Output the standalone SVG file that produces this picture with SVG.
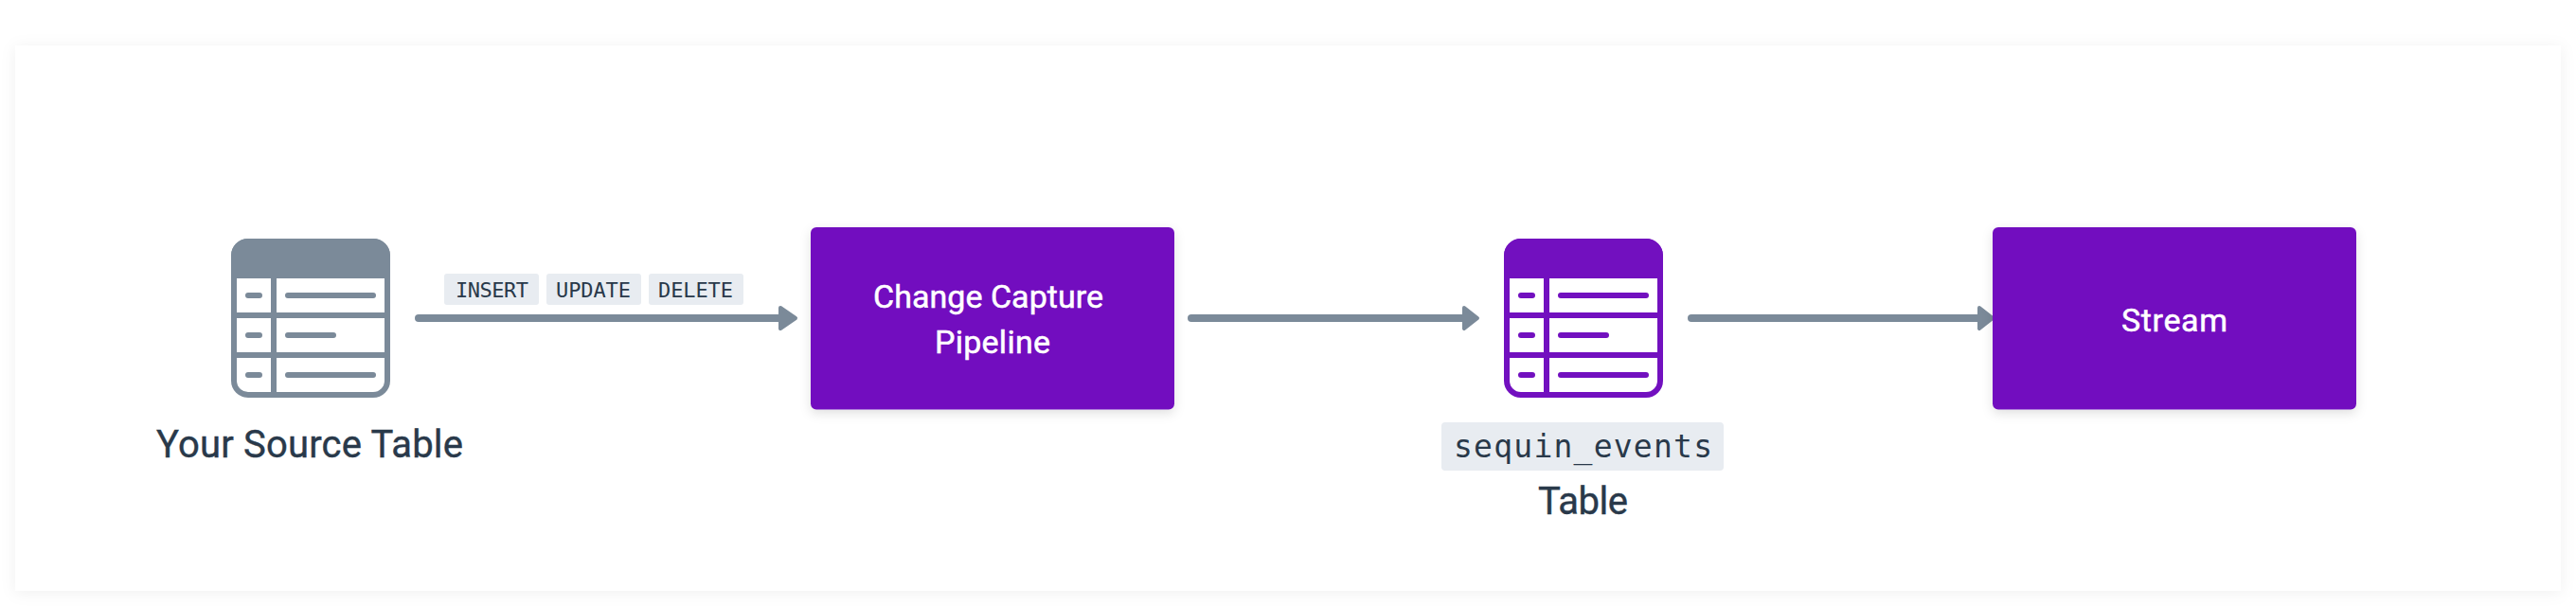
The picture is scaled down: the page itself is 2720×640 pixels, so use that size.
<svg xmlns="http://www.w3.org/2000/svg" width="2720" height="640" viewBox="0 0 2720 640">
<style>
.lbl{font-family:Roboto,"Noto Sans","Liberation Sans",sans-serif;font-weight:400;font-size:40px;fill:#29394a;stroke:#29394a;stroke-width:0.4px}
.box-t{font-family:Roboto,"Noto Sans","Liberation Sans",sans-serif;font-weight:400;font-size:34px;fill:#fff;stroke:#fff;stroke-width:0.5px}
.mono{font-family:"DejaVu Sans Mono","Liberation Mono",monospace;fill:#29394a}
.badge{fill:#e8ecf1}
.box{fill:#7210bf;filter:url(#s)}
.conn{stroke:#7b8a99;stroke-width:8;stroke-linecap:round;fill:none}
.head{fill:#7b8a99;stroke:#7b8a99;stroke-width:4;stroke-linejoin:round}
</style>
<defs>
<filter id="s" x="-10%" y="-15%" width="120%" height="135%"><feDropShadow dx="0" dy="4" stdDeviation="6" flood-color="#000" flood-opacity="0.12"/></filter>
<filter id="p" x="-2%" y="-10%" width="104%" height="120%"><feDropShadow dx="0" dy="2" stdDeviation="8" flood-color="#000" flood-opacity="0.06"/></filter>
<g id="tbl">
<path d="M247 294V270a15 15 0 0 1 15-15H394a15 15 0 0 1 15 15V402a15 15 0 0 1-15 15H262a15 15 0 0 1-15-15Z" fill="#fff" stroke="currentColor" stroke-width="6"/>
<path d="M244 294V270a18 18 0 0 1 18-18H394a18 18 0 0 1 18 18V294Z" fill="currentColor"/>
<path d="M247 333H409M247 375H409M289 294V417" fill="none" stroke="currentColor" stroke-width="6"/>
<path d="M262 312H274M304 312H394M262 354H274M304 354H352M262 396H274M304 396H394" fill="none" stroke="currentColor" stroke-width="6" stroke-linecap="round"/>
</g>
</defs>
<rect x="0" y="0" width="2720" height="640" fill="#fff"/>
<rect x="16" y="48" width="2688" height="576" fill="#fff" filter="url(#p)"/>
<g id="connectors">
<path class="conn" d="M442 336H824"/><path class="head" d="M824 325L840 336L824 347Z"/>
<path class="conn" d="M1258 336H1544"/><path class="head" d="M1546 325L1560 336L1546 347Z"/>
<path class="conn" d="M1786 336H2088"/><path class="head" d="M2090 325L2104 336L2090 347Z"/>
</g>
<g id="source-table" color="#7b8a99">
<use href="#tbl"/>
<text class="lbl" x="165" y="483" textLength="324">Your Source Table</text>
</g>
<g id="change-labels">
<rect class="badge" x="469" y="289" width="100" height="33" rx="3"/>
<text class="mono" x="481" y="314" font-size="22" textLength="77">INSERT</text>
<rect class="badge" x="577" y="289" width="100" height="33" rx="3"/>
<text class="mono" x="587" y="314" font-size="22" textLength="79">UPDATE</text>
<rect class="badge" x="685" y="289" width="100" height="33" rx="3"/>
<text class="mono" x="695" y="314" font-size="22" textLength="79">DELETE</text>
</g>
<g id="pipeline">
<rect class="box" x="856" y="240" width="384" height="192.500" rx="6"/>
<text class="box-t" x="922" y="325" textLength="243">Change Capture</text>
<text class="box-t" x="987" y="373" textLength="122">Pipeline</text>
</g>
<g id="sequin-events" color="#7210bf">
<use href="#tbl" x="1344"/>
<rect class="badge" x="1522" y="446" width="298" height="51" rx="4"/>
<text class="mono" x="1535" y="483" font-size="33" textLength="273">sequin_events</text>
<text class="lbl" x="1624" y="543" textLength="95">Table</text>
</g>
<g id="stream">
<rect class="box" x="2104" y="240" width="384" height="192.500" rx="6"/>
<text class="box-t" x="2240" y="350" textLength="112">Stream</text>
</g>
</svg>
